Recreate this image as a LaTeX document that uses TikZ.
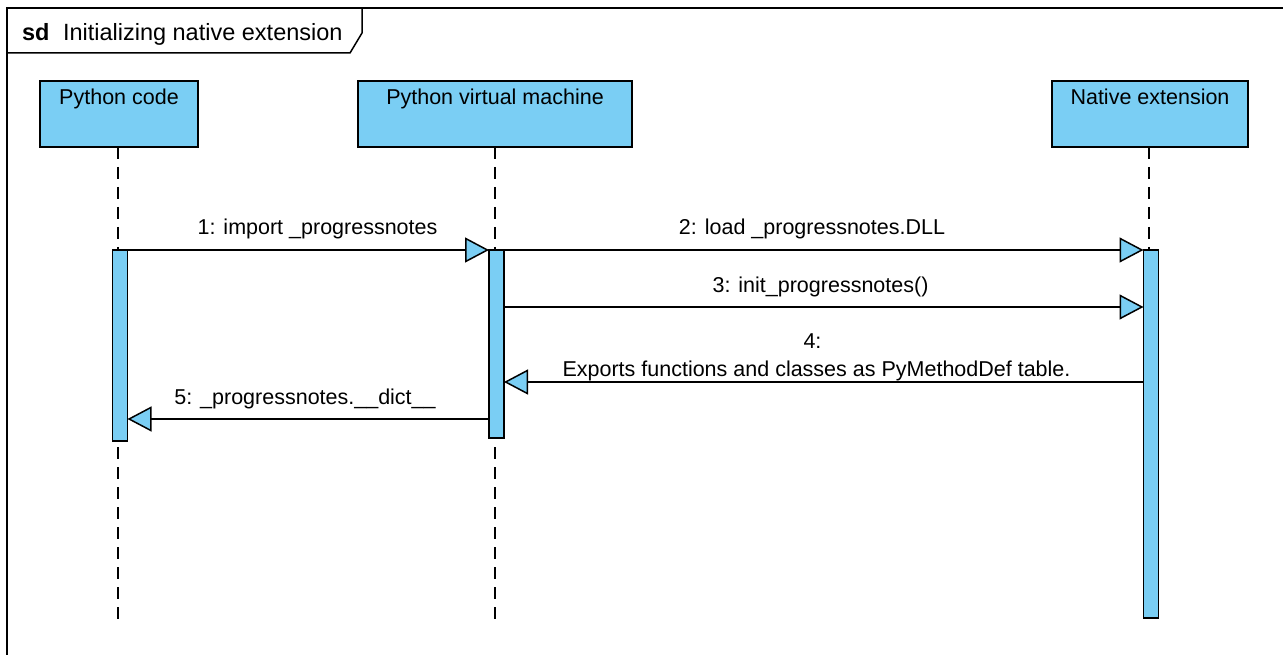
\documentclass[tikz,border=0pt]{standalone}
\usepackage{fontspec}
\setmainfont{Liberation Sans}
\usetikzlibrary{arrows.meta,calc}
\definecolor{lifeblue}{RGB}{122,206,244}
\begin{document}
\begin{tikzpicture}[x=1pt,y=-1pt,
  every node/.style={font=\fontsize{21.5}{26}\selectfont, inner sep=0pt, outer sep=0pt},
  head/.style={draw=black, line width=2pt, fill=lifeblue, minimum height=66pt},
  headtext/.style={anchor=base, yshift=-24pt},
  actbar/.style={draw=black, line width=1.6pt, fill=lifeblue, minimum width=15pt},
  lifeline/.style={draw=black, line width=2pt, dash pattern=on 12pt off 8pt},
  msg/.style={draw=black, line width=1.5pt,
    -{Triangle[length=24pt,width=25pt,fill=lifeblue,line width=1.5pt]}},
  lbl/.style={anchor=base},
  titlefont/.style={font=\fontsize{23.5}{28}\selectfont},
  titlebold/.style={font=\fontsize{23.5}{28}\selectfont\bfseries}
]
% canvas and clipping window
\useasboundingbox (0,0) rectangle (1283,655);
\fill[white] (0,0) rectangle (1283,655);
\clip (0,0) rectangle (1283,655);

% sequence diagram frame with its name tab
\draw[line width=1.5pt] (7,8) rectangle (1300,670);
\draw[line width=1.5pt] (7,53) -- (350,53) -- (362,33) -- (362,8);
\node[anchor=base west, titlebold] (sd) at (22,41) {sd};
\node[anchor=base west, titlefont] (title) at (63,41) {Initializing native extension};

% lifeline heads
\node[head, minimum width=158pt] (pc) at (119,114) {};
\node[headtext] (pct) at (pc.north) {Python code};
\node[head, minimum width=274pt] (vm) at (495,114) {};
\node[headtext] (vmt) at (vm.north) {Python virtual machine};
\node[head, minimum width=196pt] (ne) at (1150,114) {};
\node[headtext] (net) at (ne.north) {Native extension};

% lifeline ends
\coordinate (pcend) at (118,625);
\coordinate (vmend) at (495,625);
\coordinate (neend) at (1149,625);

\draw[lifeline] (pc.south -| pcend) -- (pcend);
\draw[lifeline] (vm.south -| vmend) -- (vmend);
\draw[lifeline] (ne.south -| neend) -- (neend);

% activation bars
\node[actbar, minimum height=191pt] (a1) at (120,345.5) {};
\node[actbar, minimum height=188pt] (a2) at (496.5,344) {};
\node[actbar, minimum height=368pt] (a3) at (1151,434) {};

% message levels
\coordinate (m3) at (0,307);
\coordinate (m4) at (0,382);
\coordinate (m5) at (0,419);

% messages
\draw[msg] (a1.north east) -- (a2.north west);
\node[lbl] (l1) at (317.5,235) {1: import \_progressnotes};

\draw[msg] (a2.north east) -- (a3.north west);
\node[lbl] (l2) at (812,235) {2: load \_progressnotes.DLL};

\draw[msg] (a2.east |- m3) -- (a3.west |- m3);
\node[lbl] (l3) at (820.5,292) {3: init\_progressnotes()};

\draw[msg] (a3.west |- m4) -- (a2.east |- m4);
\node[lbl] (l4a) at (812.5,348) {4:};
\node[lbl] (l4b) at (816.5,376) {Exports functions and classes as PyMethodDef table.};

\draw[msg] (a2.west |- m5) -- (a1.east |- m5);
\node[lbl] (l5) at (305,404) {5: \_progressnotes.\_\_dict\_\_};
\end{tikzpicture}
\end{document}
